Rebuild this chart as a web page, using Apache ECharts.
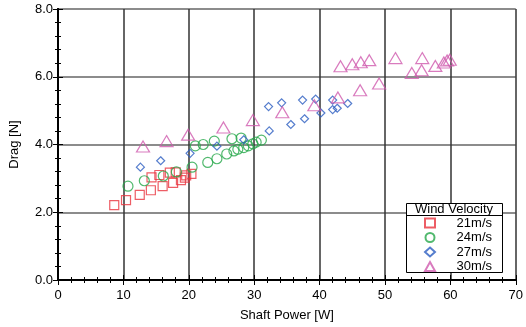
<!DOCTYPE html>
<html><head><meta charset="utf-8">
<script src="https://cdn.jsdelivr.net/npm/echarts@6/dist/echarts.min.js"></script>
<style>html,body{margin:0;padding:0;background:#fff}#c{width:526px;height:327px}</style>
</head><body><div id="c"></div>
<script>
const seriesNames = ['21m/s','24m/s','27m/s','30m/s'];
const xTicks = [0,10,20,30,40,50,60,70];
const yTicks = [0,2,4,6,8];
const v21x = [8.6,10.4,12.5,14.2,14.3,15.5,16.0,17.1,17.6,18.0,18.8,19.4,19.6,20.4];
const v21y = [2.21,2.36,2.51,2.65,3.03,3.10,2.77,3.17,2.87,3.18,2.95,3.02,3.09,3.13];
const v24x = [10.7,13.2,16.1,18.1,20.5,21.0,22.2,22.9,23.9,24.3,25.8,26.6,26.9,27.5,28.0,28.4,29.1,29.8,30.3,31.1];
const v24y = [2.77,2.93,3.07,3.19,3.33,3.96,4.00,3.47,4.10,3.58,3.72,4.17,3.81,3.86,4.19,3.91,3.96,4.02,4.07,4.13];
const v27x = [12.6,15.7,20.2,24.3,28.4,32.2,32.3,34.2,35.6,37.4,37.7,39.4,40.2,42.0,42.0,42.7,44.3];
const v27y = [3.33,3.52,3.74,3.95,4.14,5.12,4.40,5.23,4.59,5.31,4.76,5.34,4.93,5.31,5.03,5.07,5.21];
const v30x = [13.0,16.6,19.9,25.3,29.8,34.3,39.2,42.8,46.2,49.1,43.2,45.0,46.3,47.6,51.6,54.1,55.6,55.7,57.7,59.0,59.5,59.9];
const v30y = [3.94,4.10,4.29,4.50,4.72,4.95,5.16,5.39,5.60,5.80,6.31,6.37,6.43,6.49,6.55,6.11,6.19,6.55,6.32,6.42,6.48,6.50];

const pairs = (xs, ys) => xs.map((x, i) => [x, ys[i]]);
const colors = ['#e8343f','#25a84a','#2a5cc0','#cf5aae'];
const symbols = ['rect','circle','diamond','triangle'];
const sizes = [9,10,8,[13,11]];
const dataSets = [pairs(v21x,v21y), pairs(v24x,v24y), pairs(v27x,v27y), pairs(v30x,v30y)];
const font = 'Liberation Sans, Arial, sans-serif';

const chart = echarts.init(document.getElementById('c'));
const axisCommonX = {
  type:'value', min:xTicks[0], max:xTicks[xTicks.length-1], interval:10,
  axisLine:{show:true, lineStyle:{color:'#000', width:2}},
  axisTick:{show:true, inside:true, length:5, lineStyle:{color:'#000', width:1}},
  minorTick:{show:true, splitNumber:5, length:3, lineStyle:{color:'#000', width:1}},
};
const axisCommonY = {
  type:'value', min:yTicks[0], max:yTicks[yTicks.length-1], interval:2,
  axisLine:{show:true, lineStyle:{color:'#000', width:2}},
  axisTick:{show:true, inside:true, length:5, lineStyle:{color:'#000', width:1}},
  minorTick:{show:true, splitNumber:5, length:3, lineStyle:{color:'#000', width:1}},
};
chart.setOption({
  animation:false,
  backgroundColor:'#fff',
  grid:{left:57, right:10, top:9, bottom:47},
  xAxis:[
    Object.assign({}, axisCommonX, {position:'bottom',
      name:'Shaft Power [W]', nameLocation:'middle', nameGap:29,
      nameTextStyle:{fontFamily:font, fontSize:13, color:'#000'},
      axisLabel:{fontFamily:font, fontSize:13, color:'#000', margin:9},
      splitLine:{show:true, lineStyle:{color:'#333', width:1.5}}}),
    Object.assign({}, axisCommonX, {position:'top', axisLabel:{show:false}, splitLine:{show:false}})
  ],
  yAxis:[
    Object.assign({}, axisCommonY, {position:'left',
      name:'Drag [N]', nameLocation:'middle', nameGap:37, nameRotate:90,
      nameTextStyle:{fontFamily:font, fontSize:13, color:'#000'},
      axisLabel:{fontFamily:font, fontSize:13, color:'#000', margin:5, formatter:v=>v.toFixed(1)},
      splitLine:{show:true, lineStyle:{color:'#666', width:1.5}}}),
    Object.assign({}, axisCommonY, {position:'right', axisLabel:{show:false}, splitLine:{show:false}})
  ],
  legend:{
    orient:'vertical', left:424, top:216, padding:0, itemWidth:10, itemHeight:9, itemGap:0.5,
    data:seriesNames,
    formatter: name => '{r|' + name + '}',
    textStyle:{fontFamily:font, fontSize:13, color:'#000', lineHeight:14,
      rich:{r:{width:52, align:'right', fontFamily:font, fontSize:13, color:'#000', lineHeight:14}}},
    z:20
  },
  graphic:[
    {type:'rect', z:10, shape:{x:406.5, y:203.5, width:96, height:69}, style:{fill:'#fff', stroke:'#000', lineWidth:1}},
    {type:'line', z:11, shape:{x1:406.5, y1:215.5, x2:502.5, y2:215.5}, style:{stroke:'#000', lineWidth:1}},
    {type:'text', z:11, style:{x:454, y:209.5, text:'Wind Velocity', fontFamily:font, fontSize:13, fill:'#000', align:'center', verticalAlign:'middle'}}
  ],
  series: seriesNames.map((n, i) => ({
    name:n, type:'scatter', data:dataSets[i], symbol:symbols[i], symbolSize:sizes[i],
    itemStyle:{color:'rgba(255,255,255,0)', borderColor:colors[i], borderWidth:1.2},
    z:5
  }))
});
</script></body></html>
